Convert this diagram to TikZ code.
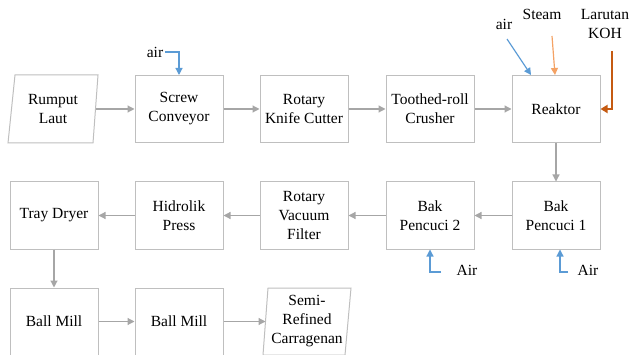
\documentclass[tikz,border=0pt]{standalone}
\usepackage{fontspec}
\setmainfont{Liberation Serif}
\usetikzlibrary{arrows.meta,calc}
\definecolor{boxgray}{RGB}{191,191,191}
\definecolor{arrgray}{RGB}{166,166,166}
\definecolor{airblue}{RGB}{91,155,213}
\definecolor{steamor}{RGB}{244,162,100}
\definecolor{kohred}{RGB}{197,90,17}
\begin{document}
\begin{tikzpicture}[x=1pt,y=-1pt,
  every node/.style={font=\fontsize{15.5}{19}\selectfont, align=center, inner sep=0pt},
  proc/.style={draw=boxgray, line width=1pt, minimum width=88pt, minimum height=67pt},
  ghost/.style={minimum width=85pt, minimum height=67pt},
  flow/.style={draw=arrgray, line width=1.2pt, -{Triangle[length=7pt,width=7pt]}},
  blueflow/.style={draw=airblue, line width=1.2pt, -{Triangle[length=7pt,width=7pt]}},
  orflow/.style={draw=steamor, line width=1.2pt, -{Triangle[length=7pt,width=7pt]}},
  kohflow/.style={draw=kohred, line width=2.4pt, -{Triangle[length=7pt,width=8pt]}},
  lbl/.style={}]
\useasboundingbox (0,0) rectangle (631,355);
% row 1
\node[ghost] (rl) at (53,109) {Rumput\\Laut};
\draw[boxgray, line width=1pt] (15,75) -- (98,75) -- (93,143) -- (8,143) -- cycle;
\node[proc] (sc) at (179,109) {Screw\\Conveyor};
\node[proc] (rk) at (304,109) {Rotary\\Knife Cutter};
\node[proc] (tc) at (430,109) {Toothed-roll\\Crusher};
\node[proc] (re) at (556,109) {Reaktor};
% row 2
\node[proc] (td) at (54,215.5) {Tray Dryer};
\node[proc] (hp) at (179,215.5) {Hidrolik\\Press};
\node[proc] (rv) at (304,215.5) {Rotary\\Vacuum\\Filter};
\node[proc] (b2) at (430,215.5) {Bak\\Pencuci 2};
\node[proc] (b1) at (556,215.5) {Bak\\Pencuci 1};
% row 3
\node[proc] (m1) at (54,321.5) {Ball Mill};
\node[proc] (m2) at (179,321.5) {Ball Mill};
\node[ghost] (sr) at (307,321.5) {Semi-\\Refined\\Carragenan};
\draw[boxgray, line width=1pt] (268,288) -- (351,288) -- (345,355) -- (263,355) -- cycle;
% main flow
\draw[flow] (95.5,109) -- (sc.west);
\draw[flow] (sc) -- (rk);
\draw[flow] (rk) -- (tc);
\draw[flow] (tc) -- (re);
\draw[flow] (re) -- (b1);
\draw[flow] (b1) -- (b2);
\draw[flow] (b2) -- (rv);
\draw[flow] (rv) -- (hp);
\draw[flow] (hp) -- (td);
\draw[flow] (td) -- (m1);
\draw[flow] (m1) -- (m2);
\draw[flow] (m2.east) -- (265.5,321.5);
% inputs
\node (air1) at (155,52) {air};
\draw[blueflow] (air1.east) ++(2,0) -| (sc.north);
\node (air2) at (504,24) {air};
\coordinate (a2s) at (507,39);
\draw[blueflow] (a2s) -- (531,75);
\node (steam) at (542,14) {Steam};
\coordinate (sts) at (552,36);
\draw[orflow] (sts) -- (555,75);
\node (koh) at (605,24) {Larutan\\KOH};
\coordinate (kohs) at (612,51);
\draw[kohflow] (kohs) |- (re.east);
\node (air3) at (467,270) {Air};
\coordinate (a3s) at (441,272);
\draw[blueflow] (a3s) -| (b2.south);
\node (air4) at (588,270) {Air};
\coordinate (a4s) at (568,272);
\draw[blueflow] (a4s) -| ($(b1.south)+(4,0)$);
\end{tikzpicture}
\end{document}
